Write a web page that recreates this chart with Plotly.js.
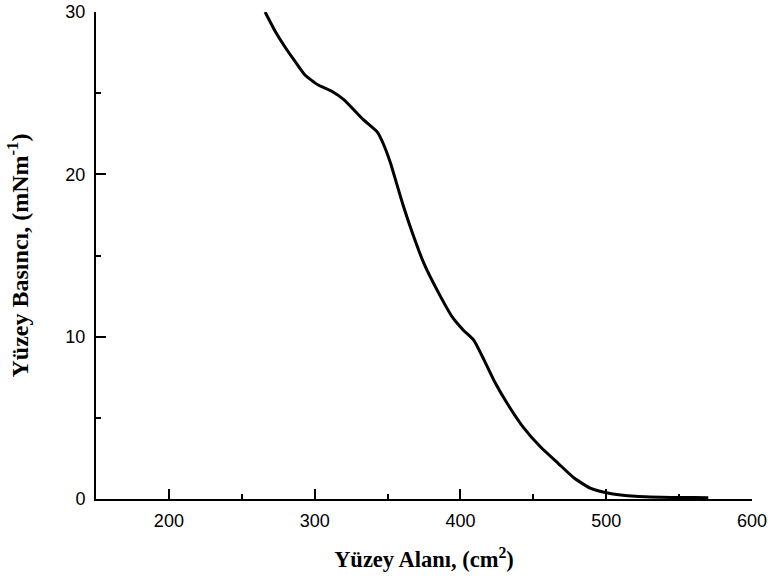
<!DOCTYPE html>
<html>
<head>
<meta charset="utf-8">
<script src="https://cdn.plot.ly/plotly-3.0.1.min.js"></script>
<style>html,body{margin:0;padding:0;background:#fff;}#chart{width:768px;height:583px;}</style>
</head>
<body>
<div id="chart"></div>
<script>
const area = [266, 273, 280, 287, 293.5, 302.5, 312, 320, 333, 343, 347, 352, 357, 361, 367, 375, 385, 394.5, 402, 409, 416, 423, 432, 443, 455, 467, 478, 489, 501, 510, 520, 530, 545, 560, 570];
const pressure = [30, 28.8, 27.8, 26.9, 26.1, 25.5, 25.1, 24.6, 23.4, 22.6, 21.9, 20.7, 19.2, 18.0, 16.4, 14.5, 12.7, 11.2, 10.4, 9.8, 8.6, 7.3, 5.9, 4.43, 3.2, 2.2, 1.29, 0.67, 0.37, 0.25, 0.17, 0.13, 0.1, 0.09, 0.08];
const xTicks = [200, 300, 400, 500, 600];
const yTicks = [0, 10, 20, 30];

const trace = {
  x: area, y: pressure, type: 'scatter', mode: 'lines',
  line: {color: '#000', width: 3, shape: 'spline', smoothing: 0.5},
  hoverinfo: 'skip'
};

const tickFont = {family: 'Liberation Sans, Arial, sans-serif', size: 18, color: '#000'};
const xTitleFont = {family: 'Liberation Serif, Times New Roman, serif', size: 22.5, color: '#000', weight: 'bold'};
const yTitleFont = {family: 'Liberation Serif, Times New Roman, serif', size: 24, color: '#000', weight: 'bold'};

const layout = {
  width: 768, height: 583,
  margin: {l: 96, r: 16, t: 12, b: 84},
  paper_bgcolor: '#fff', plot_bgcolor: '#fff',
  showlegend: false,
  xaxis: {
    range: [150, 600], tickvals: xTicks, ticktext: xTicks.map(String),
    ticks: 'inside', ticklen: 10, tickwidth: 2, tickcolor: '#000',
    minor: {dtick: 50, tick0: 150, ticks: 'inside', ticklen: 5, tickwidth: 2, tickcolor: '#000'},
    showline: true, linecolor: '#000', linewidth: 2, mirror: false,
    showgrid: false, zeroline: false, tickfont: tickFont, ticklabelstandoff: 4,
    title: {text: 'Yüzey Alanı, (cm<sup>2</sup>)', font: xTitleFont, standoff: 22}
  },
  yaxis: {
    range: [0, 30], tickvals: yTicks, ticktext: yTicks.map(String),
    ticks: 'inside', ticklen: 10, tickwidth: 2, tickcolor: '#000',
    minor: {dtick: 5, tick0: 0, ticks: 'inside', ticklen: 5, tickwidth: 2, tickcolor: '#000'},
    showline: true, linecolor: '#000', linewidth: 2, mirror: false,
    showgrid: false, zeroline: false, tickfont: tickFont, ticklabelstandoff: 5,
    title: {text: 'Yüzey Basıncı, (mNm<sup>-1</sup>)', font: yTitleFont, standoff: 30}
  }
};

Plotly.newPlot('chart', [trace], layout, {displayModeBar: false, staticPlot: true});
</script>
</body>
</html>
